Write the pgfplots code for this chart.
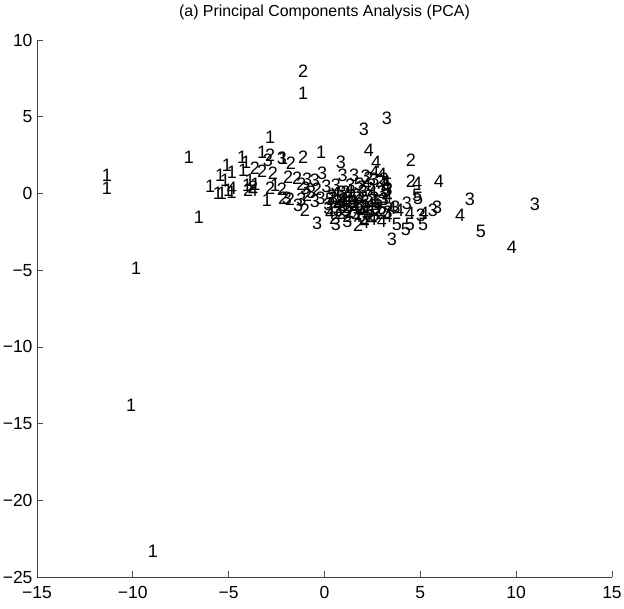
\documentclass[border=0pt]{standalone}
\usepackage{pgfplots}
\pgfplotsset{compat=1.18}
\usepackage{fontspec}
\setmainfont{Liberation Sans}
\newcommand{\cls}[1]{\fontsize{18}{18}\selectfont #1}
\begin{document}
\begin{tikzpicture}[x=1pt,y=1pt]
\useasboundingbox (-37,-31) rectangle (587,577);
\begin{axis}[
 at={(0,0)},anchor=south west,
 scale only axis,width=575pt,height=537pt,
 xmin=-15,xmax=15,ymin=-25,ymax=10,
 axis lines=left,axis line style={-,draw=black!75,line width=0.8pt},
 tick align=inside,tick style={draw=black!70,line width=0.7pt},major tick length=6pt,
 clip=false,
 xtick={-15,-10,-5,0,5,10,15},ytick={-25,-20,-15,-10,-5,0,5,10},
 xticklabels={−15,−10,−5,0,5,10,15},yticklabels={−25,−20,−15,−10,−5,0,5,10},
 tick label style={font=\fontsize{17.5}{17.5}\selectfont},
 xticklabel style={yshift=-6pt},yticklabel style={xshift=-1pt},
 title={(a) Principal Components Analysis (PCA)},
 title style={font=\fontsize{15.9}{15.9}\selectfont,yshift=11pt},
 every axis plot/.append style={only marks,mark=text,mark options={draw=none,fill=none}},
]
\addplot[text mark={\cls{1}}] coordinates {(-11.35,1.17)(-11.35,0.33)(-9.83,-4.89)(-10.09,-13.82)(-8.95,-23.34)(-1.12,6.52)(-7.07,2.35)(-6.55,-1.56)(-2.84,3.65)(-0.18,2.67)(-5.97,0.46)(-5.56,0)(-5.45,1.17)(-5.09,1.83)(-4.83,1.37)(-5.19,0.85)(-4.30,2.35)(-4.09,2.02)(-4.25,1.50)(-3.26,2.67)(-4.04,0.52)(-3.0,-0.46)(-2.16,2.28)(-5.35,0)(-5.03,0.2)(-3.89,0.85)(-2.58,0.52)(-4.85,0.1)(-3.6,0.6)};
\addplot[text mark={\cls{2}}] coordinates {(-1.12,7.95)(4.51,2.15)(4.51,0.78)(-1.12,2.35)(-1.75,1.96)(-2.84,2.48)(-3.63,1.63)(-3.26,1.43)(-2.69,1.30)(-1.90,1.04)(-1.43,0.98)(-3.73,0.39)(-2.84,0.33)(-2.22,0.26)(-1.02,-1.11)(-2.16,-0.33)(1.75,-2.09)(-3.99,0.2)(0.4,-0.2)(0.7,-0.5)(1.1,0.1)(1.5,-0.6)(1.9,0.4)(2.2,-1.0)(2.6,-0.3)(0.9,-1.3)(1.3,-1.2)(-0.4,0.3)(-0.9,-0.1)(2.9,0.8)(2.3,1.0)(0.5,-1.6)(2.4,-1.5)(3.0,-1.3)(1.7,-0.1)(-1.8,-0.4)(-1.2,0.6)(1.0,-0.4)(1.6,-0.8)(2.0,-0.9)(2.8,-1.1)(1.4,-0.2)(2.1,-1.6)(0.8,-0.9)(1.2,-1.5)};
\addplot[text mark={\cls{3}}] coordinates {(3.26,4.89)(2.06,4.17)(0.86,2.02)(10.98,-0.72)(7.59,-0.39)(5.87,-0.91)(5.66,-1.11)(4.30,-0.65)(5.03,-1.43)(3.52,-3.0)(-0.39,-1.96)(-2.95,2.15)(-2.22,2.28)(-1.38,-0.78)(-1.96,-0.33)(-0.5,0.85)(-0.13,1.30)(0.95,1.15)(1.55,1.15)(2.15,1.1)(2.6,0.95)(3.1,0.9)(-0.7,0.1)(-0.2,-0.3)(0.1,0.45)(0.6,0.55)(0.9,0.1)(1.35,0.55)(2.0,0.15)(2.45,0.5)(3.0,0.1)(-1.0,0.35)(-0.5,-0.5)(0.2,-0.7)(0.7,-1.1)(0.6,-2.0)(1.0,-0.8)(1.6,-1.3)(2.1,-0.5)(2.7,-1.0)(3.1,-0.4)(3.3,0.3)(-1.2,-0.4)(1.2,-1.8)(0.2,-1.0)(3.7,-0.9)(-0.9,0.9)(1.8,-0.7)(2.3,-0.2)(0.45,-0.3)(3.3,-1.2)(1.1,-1.1)};
\addplot[text mark={\cls{4}}] coordinates {(2.32,2.80)(2.69,2.02)(4.83,0.65)(5.97,0.78)(9.78,-3.52)(7.07,-1.43)(4.46,-1.30)(5.19,-1.30)(-4.83,0.33)(-3.73,0.2)(2.6,1.35)(3.0,1.25)(2.5,0.1)(3.2,0.4)(3.3,-0.2)(1.9,-0.3)(1.2,-0.5)(0.6,0.0)(1.6,-0.9)(2.5,-1.7)(2.1,-1.9)(3.0,-1.8)(3.5,-1.0)(3.9,-1.1)(1.3,0.2)(0.3,-1.3)(0.7,-0.8)(3.2,0.7)(2.2,0.6)(1.7,-1.5)(2.7,-0.7)(1.5,-0.5)(2.0,-1.2)(0.9,-0.6)(3.3,-1.5)(2.4,-0.7)};
\addplot[text mark={\cls{5}}] coordinates {(8.16,-2.48)(5.14,-2.02)(4.46,-2.02)(4.25,-2.35)(3.78,-2.02)(4.88,-0.33)(4.83,-0.15)(3.3,0.6)(3.2,0.1)(3.35,-0.7)(2.4,-1.2)(1.2,-0.9)(0.3,-0.4)(1.8,0.6)(2.8,-0.5)(3.0,-1.0)(1.5,-0.3)(2.2,-1.3)(0.9,-0.2)(2.6,-1.4)(1.9,-1.0)};
\end{axis}
\end{tikzpicture}
\end{document}
